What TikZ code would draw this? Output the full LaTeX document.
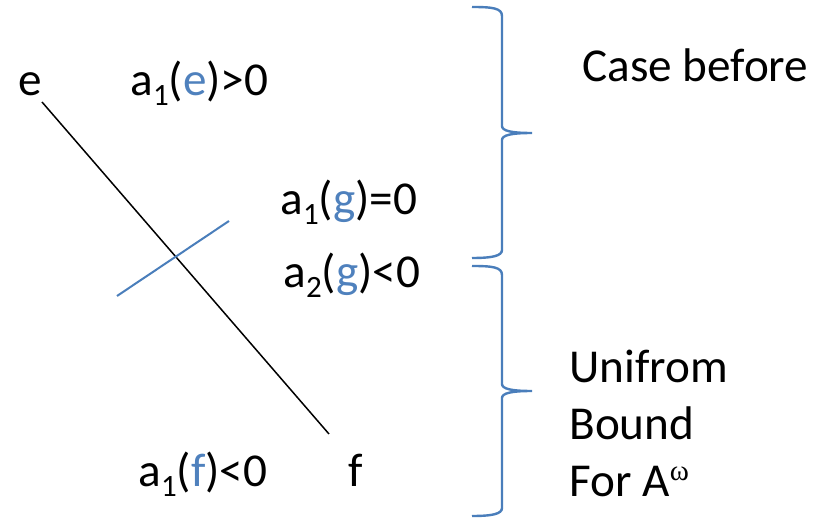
\documentclass[tikz,border=0pt]{standalone}
\usepackage{fontspec}
\setmainfont{Carlito}
\newfontfamily\omfont{Liberation Serif}
\definecolor{accblue}{HTML}{4A7EBB}
\definecolor{txtblue}{HTML}{4F81BD}
\newcommand\mysub[1]{\raisebox{-0.2em}{\fontsize{15.5}{15.5}\selectfont #1}}
\newcommand\mysup[1]{\raisebox{8pt}{\omfont\fontsize{14.5}{14.5}\selectfont #1}}
\newcommand\bl[1]{\textcolor{txtblue}{#1}}
\begin{document}
\begin{tikzpicture}[x=0.5pt,y=-0.5pt,
  lbl/.style={anchor=base west,inner sep=0pt,font=\fontsize{23.6}{23.6}\selectfont},
  blk/.style={draw=black,line width=0.75pt},
  blu/.style={draw=accblue,line width=1pt},
  brc/.style={draw=accblue,line width=1.2pt}]
\useasboundingbox (0,0) rectangle (827,519);
% labels
\node[lbl] (e) at (18,96) {e};
\node[lbl] (ae) at (130,96) {a\mysub{1}(\bl{e})>0};
\node[lbl] (ag1) at (280,215) {a\mysub{1}(\bl{g})=0};
\node[lbl] (ag2) at (283,288) {a\mysub{2}(\bl{g})<0};
\node[lbl] (af) at (138,487) {a\mysub{1}(\bl{f})<0};
\node[lbl] (f) at (348,487) {f};
\node[lbl] (case) at (582,82) {Case before};
\node[lbl] (uni) at (569,383) {Unifrom};
\node[lbl] (bnd) at (569,440) {Bound};
\node[lbl] (for) at (569,497) {For A\mysup{ω}};
% lines
\coordinate (ls) at (42,102);
\coordinate (le) at (329,434);
\coordinate (gs) at (117,296);
\coordinate (ge) at (229,221);
\draw[blk] (ls) -- (le);
\draw[blu] (gs) -- (ge);
% braces
\draw[brc] (472,7) .. controls (492,7) and (502,8) .. (502,16) -- (502,126)
  .. controls (502,131) and (512,133) .. (532,133)
  .. controls (512,133) and (502,135) .. (502,140) -- (502,250)
  .. controls (502,256) and (492,258) .. (472,258);
\draw[brc] (472,266) .. controls (492,266) and (502,267) .. (502,275) -- (502,384)
  .. controls (502,389) and (512,391) .. (532,391)
  .. controls (512,391) and (502,393) .. (502,398) -- (502,508)
  .. controls (502,514) and (492,516) .. (472,516);
\end{tikzpicture}
\end{document}
